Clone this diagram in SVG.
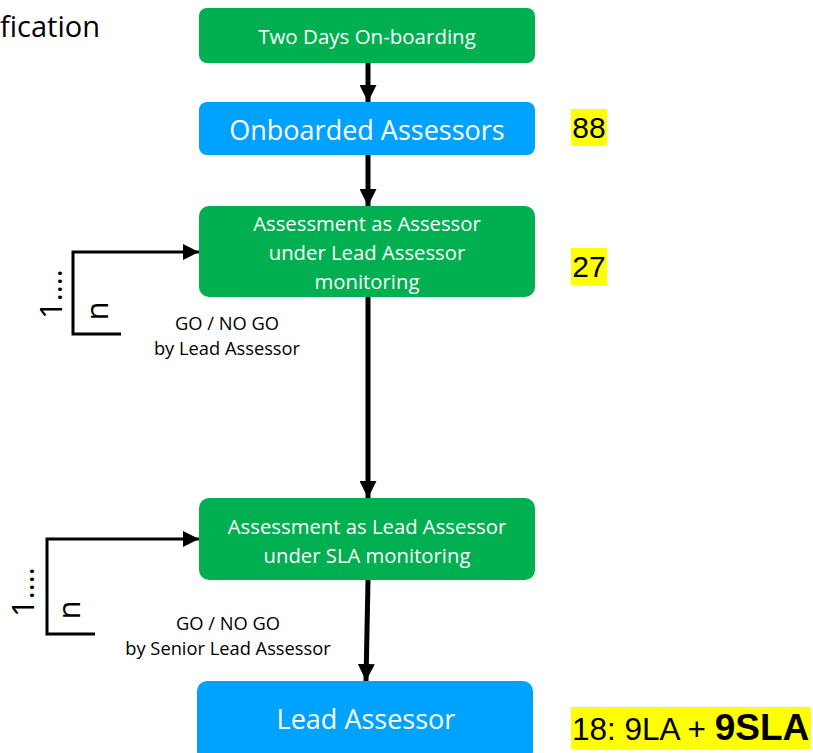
<svg xmlns="http://www.w3.org/2000/svg" width="813" height="753" viewBox="0 0 813 753">
<defs>
<style>
.g{fill:#00B050}
.b{fill:#00A2FF}
.t{font-family:"Open Sans","Noto Sans",sans-serif;fill:#fff;text-anchor:middle;dominant-baseline:central}
.k{font-family:"Open Sans","Noto Sans",sans-serif;fill:#000;text-anchor:middle;dominant-baseline:central}
.n{font-family:"Liberation Sans",Arial,sans-serif;fill:#000}
.c{stroke:#000;stroke-width:5;fill:none}
.c2{stroke:#000;stroke-width:3;fill:none}
.hl{fill:#FFFF00}
</style>
<marker id="ah" viewBox="0 0 10 10" refX="10" refY="5" markerWidth="3.4" markerHeight="3.4" orient="auto" markerUnits="strokeWidth">
<path d="M0,0 L10,5 L0,10 Z" fill="#000"/>
</marker>
<marker id="ah2" viewBox="0 0 10 10" refX="10" refY="5" markerWidth="5.5" markerHeight="5.5" orient="auto" markerUnits="strokeWidth">
<path d="M0,0 L10,5 L0,10 Z" fill="#000"/>
</marker>
</defs>
<rect width="813" height="753" fill="#fff"/>
<text x="0" y="37" font-family="'Open Sans','Noto Sans',sans-serif" font-size="29">fication</text>

<g id="connectors">
<line class="c" x1="368" y1="63" x2="368" y2="102" marker-end="url(#ah)"/>
<line class="c" x1="368" y1="155" x2="368" y2="206" marker-end="url(#ah)"/>
<line class="c" x1="368" y1="297" x2="368" y2="498" marker-end="url(#ah)"/>
<line class="c" x1="368" y1="580" x2="366" y2="681" marker-end="url(#ah)"/>
<polyline class="c2" points="121,334 73,334 73,252 199,252" marker-end="url(#ah2)"/>
<polyline class="c2" points="95,634 47,634 47,539 199,539" marker-end="url(#ah2)"/>
</g>

<g id="node-onboarding">
<rect class="g" x="199" y="8" width="336" height="55" rx="8"/>
<text class="t" x="367" y="36" font-size="20.5">Two Days On-boarding</text>
</g>
<g id="node-onboarded">
<rect class="b" x="199" y="102" width="336" height="53" rx="8"/>
<text class="t" x="367" y="129" font-size="27">Onboarded Assessors</text>
</g>
<g id="node-assessor">
<rect class="g" x="199" y="206" width="336" height="91" rx="10"/>
<text class="t" x="367" y="223" font-size="20.3">Assessment as Assessor</text>
<text class="t" x="367" y="252" font-size="20.3">under Lead Assessor</text>
<text class="t" x="367" y="281" font-size="20.3">monitoring</text>
</g>
<g id="node-lead-assessment">
<rect class="g" x="199" y="498" width="336" height="82" rx="10"/>
<text class="t" x="367" y="526" font-size="20.3">Assessment as Lead Assessor</text>
<text class="t" x="367" y="555" font-size="20.3">under SLA monitoring</text>
</g>
<g id="node-lead">
<rect class="b" x="197" y="681" width="336" height="80" rx="10"/>
<text class="t" x="366" y="718" font-size="27">Lead Assessor</text>
</g>

<g id="loop1">
<text class="k" x="50" y="294" font-size="31" transform="rotate(-90 50 294)">1….</text>
<text class="k" x="96" y="311" font-size="31" transform="rotate(-90 96 311)">n</text>
<text class="k" x="227" y="322" font-size="18.3">GO / NO GO</text>
<text class="k" x="227" y="347" font-size="18.3">by Lead Assessor</text>
</g>
<g id="loop2">
<text class="k" x="22" y="592" font-size="31" transform="rotate(-90 22 592)">1….</text>
<text class="k" x="68" y="610" font-size="31" transform="rotate(-90 68 610)">n</text>
<text class="k" x="228" y="622" font-size="18.3">GO / NO GO</text>
<text class="k" x="228" y="647" font-size="18.3">by Senior Lead Assessor</text>
</g>

<g id="counts">
<rect class="hl" x="571" y="109" width="36" height="37"/>
<text class="n" x="589" y="138" font-size="30" text-anchor="middle">88</text>
<rect class="hl" x="571" y="248" width="36" height="37"/>
<text class="n" x="589" y="277" font-size="30" text-anchor="middle">27</text>
<rect class="hl" x="571" y="707" width="240" height="42"/>
<text class="n" x="572" y="740" font-size="31.5">18: 9LA + <tspan font-weight="bold" font-size="37">9SLA</tspan></text>
</g>
</svg>
